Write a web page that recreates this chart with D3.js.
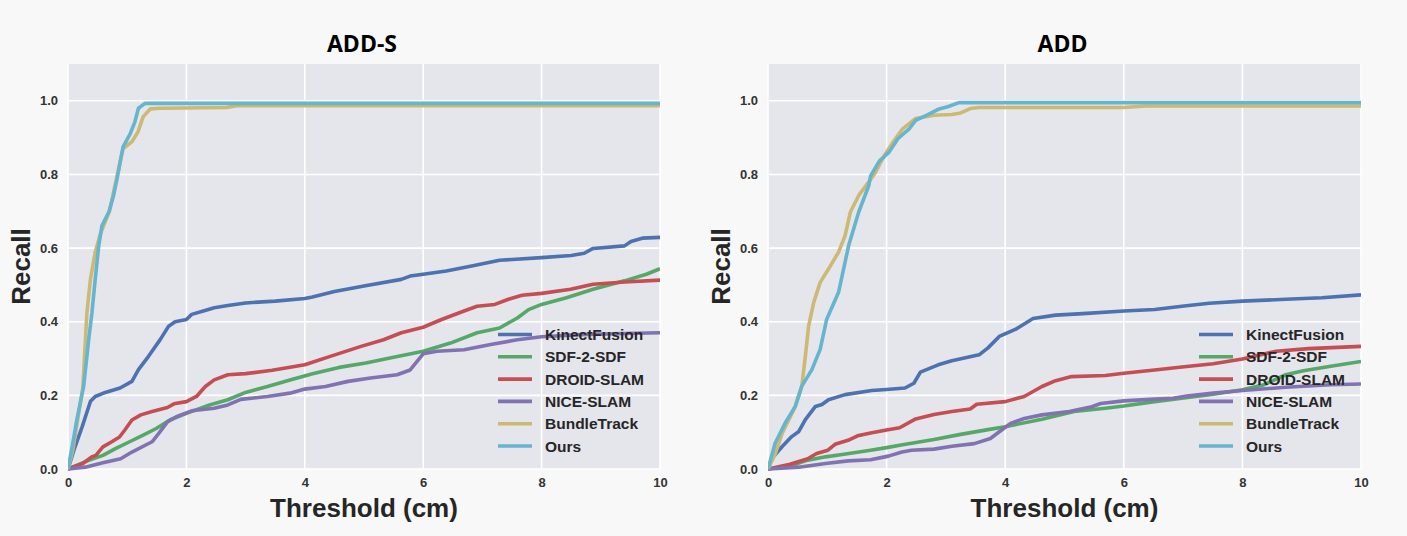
<!DOCTYPE html>
<html>
<head>
<meta charset="utf-8">
<script src="https://cdn.jsdelivr.net/npm/d3@7"></script>
<style>
  html, body { margin: 0; padding: 0; background: #f8f8f8; }
  svg { display: block; }
</style>
</head>
<body>
<svg id="chart" width="1407" height="536"></svg>
<script>
// ---------- DATA ----------
const seriesNames = ["KinectFusion", "SDF-2-SDF", "DROID-SLAM", "NICE-SLAM", "BundleTrack", "Ours"];
const seriesColors = ["#4C72B0", "#55A868", "#C44E52", "#8172B2", "#CCB974", "#64B5CD"];
const chartTitles = ["ADD-S", "ADD"];
const xTicks = [0, 2, 4, 6, 8, 10];
const yTicks = [0.0, 0.2, 0.4, 0.6, 0.8, 1.0];
const xLabel = "Threshold (cm)";
const yLabel = "Recall";

// ADD-S  [threshold (cm), recall]
const addS_KinectFusion = [[0,0],[0.12,0.061],[0.24,0.115],[0.38,0.184],[0.46,0.197],[0.63,0.208],[0.88,0.22],[1.08,0.238],[1.19,0.27],[1.36,0.306],[1.56,0.352],[1.7,0.388],[1.81,0.4],[2.0,0.406],[2.09,0.42],[2.3,0.43],[2.47,0.438],[2.7,0.444],[3.0,0.451],[3.5,0.456],[4.0,0.463],[4.13,0.467],[4.5,0.482],[5.0,0.497],[5.63,0.515],[5.78,0.524],[6.0,0.529],[6.39,0.538],[6.84,0.552],[7.29,0.567],[8.0,0.574],[8.5,0.58],[8.72,0.586],[8.87,0.599],[9.4,0.606],[9.51,0.618],[9.7,0.627],[10,0.629]];
const addS_SDF2SDF = [[0,0],[0.36,0.024],[0.59,0.037],[0.81,0.056],[1.04,0.074],[1.27,0.092],[1.49,0.11],[1.72,0.133],[2.0,0.151],[2.39,0.174],[2.7,0.188],[3.0,0.208],[3.37,0.224],[3.75,0.242],[4.13,0.259],[4.58,0.276],[5.03,0.288],[5.48,0.303],[6.0,0.32],[6.46,0.342],[6.91,0.37],[7.29,0.383],[7.59,0.41],[7.78,0.433],[8.0,0.447],[8.42,0.465],[8.87,0.488],[9.4,0.511],[9.77,0.529],[10,0.544]];
const addS_DROIDSLAM = [[0,0],[0.25,0.015],[0.4,0.033],[0.47,0.037],[0.59,0.06],[0.74,0.074],[0.87,0.087],[0.96,0.106],[1.08,0.133],[1.23,0.147],[1.42,0.156],[1.68,0.167],[1.79,0.177],[2.0,0.183],[2.17,0.197],[2.32,0.224],[2.47,0.242],[2.7,0.256],[3.0,0.259],[3.45,0.268],[4.0,0.283],[4.43,0.306],[4.95,0.333],[5.33,0.351],[5.63,0.37],[6.0,0.385],[6.31,0.406],[6.69,0.429],[6.91,0.442],[7.21,0.447],[7.44,0.461],[7.67,0.472],[8.0,0.477],[8.49,0.488],[8.87,0.502],[9.4,0.508],[10,0.513]];
const addS_NICESLAM = [[0,0],[0.29,0.005],[0.59,0.017],[0.89,0.028],[1.08,0.046],[1.42,0.074],[1.53,0.096],[1.68,0.128],[1.83,0.142],[2.09,0.158],[2.47,0.165],[2.7,0.174],[2.92,0.189],[3.37,0.197],[3.75,0.206],[4.0,0.217],[4.35,0.224],[4.73,0.238],[5.11,0.247],[5.56,0.256],[5.78,0.269],[6.0,0.313],[6.23,0.32],[6.69,0.324],[7.14,0.338],[7.59,0.351],[8.0,0.359],[8.65,0.365],[9.4,0.368],[10,0.37]];
const addS_BundleTrack = [[0,0],[0.08,0.05],[0.15,0.12],[0.25,0.22],[0.32,0.425],[0.38,0.516],[0.46,0.589],[0.55,0.64],[0.7,0.7],[0.88,0.835],[0.93,0.87],[1.01,0.88],[1.08,0.889],[1.18,0.915],[1.27,0.957],[1.39,0.978],[1.55,0.98],[2.68,0.982],[2.85,0.987],[10,0.987]];
const addS_Ours = [[0,0],[0.07,0.06],[0.15,0.134],[0.265,0.225],[0.35,0.352],[0.405,0.425],[0.46,0.516],[0.52,0.607],[0.574,0.661],[0.69,0.698],[0.77,0.743],[0.83,0.789],[0.93,0.875],[1.05,0.91],[1.13,0.943],[1.19,0.98],[1.3,0.993],[10,0.993]];

// ADD
const add_KinectFusion = [[0,0],[0.07,0.03],[0.24,0.061],[0.4,0.088],[0.52,0.102],[0.63,0.134],[0.8,0.17],[0.91,0.175],[1.02,0.188],[1.3,0.202],[1.75,0.213],[2.0,0.216],[2.31,0.22],[2.46,0.233],[2.57,0.263],[2.87,0.283],[3.1,0.294],[3.56,0.31],[3.71,0.329],[3.9,0.36],[4.17,0.379],[4.47,0.409],[4.85,0.418],[5.31,0.422],[6.0,0.429],[6.52,0.433],[6.98,0.442],[7.44,0.45],[8.0,0.456],[8.73,0.461],[9.34,0.465],[10,0.473]];
const add_SDF2SDF = [[0,0],[0.37,0.008],[0.67,0.024],[0.97,0.033],[1.28,0.04],[1.73,0.051],[2.0,0.058],[2.27,0.066],[2.8,0.08],[3.25,0.094],[3.71,0.107],[4.0,0.115],[4.62,0.135],[5.16,0.156],[5.69,0.165],[6.0,0.171],[6.52,0.183],[6.98,0.192],[7.51,0.203],[8.0,0.215],[8.35,0.228],[8.73,0.256],[9.03,0.267],[9.49,0.279],[10,0.292]];
const add_DROIDSLAM = [[0,0],[0.37,0.013],[0.67,0.028],[0.82,0.042],[1.01,0.051],[1.13,0.067],[1.35,0.078],[1.51,0.09],[1.73,0.098],[2.0,0.106],[2.22,0.112],[2.49,0.136],[2.8,0.148],[3.1,0.156],[3.41,0.163],[3.52,0.176],[4.0,0.183],[4.32,0.197],[4.62,0.224],[4.85,0.24],[5.12,0.251],[5.69,0.254],[6.0,0.26],[6.52,0.269],[6.98,0.277],[7.51,0.286],[8.0,0.299],[8.57,0.32],[9.11,0.327],[10,0.333]];
const add_NICESLAM = [[0,0],[0.52,0.005],[0.97,0.015],[1.35,0.022],[1.73,0.025],[2.03,0.035],[2.26,0.046],[2.42,0.051],[2.8,0.054],[3.1,0.062],[3.48,0.069],[3.75,0.083],[3.94,0.106],[4.09,0.124],[4.32,0.137],[4.62,0.147],[5.08,0.156],[5.46,0.169],[5.61,0.178],[6.0,0.185],[6.44,0.189],[6.83,0.192],[7.06,0.198],[7.51,0.206],[8.0,0.213],[8.73,0.222],[9.49,0.229],[10,0.231]];
const add_BundleTrack = [[0,0],[0.12,0.04],[0.24,0.097],[0.46,0.17],[0.57,0.225],[0.63,0.306],[0.685,0.388],[0.77,0.452],[0.88,0.507],[1.02,0.543],[1.19,0.589],[1.3,0.634],[1.39,0.698],[1.53,0.743],[1.7,0.78],[1.81,0.805],[1.96,0.851],[2.11,0.888],[2.27,0.924],[2.49,0.952],[2.8,0.961],[3.1,0.963],[3.25,0.967],[3.41,0.979],[3.56,0.982],[6.0,0.982],[6.37,0.986],[10,0.986]];
const add_Ours = [[0,0],[0.12,0.07],[0.29,0.125],[0.46,0.17],[0.57,0.225],[0.74,0.27],[0.88,0.325],[0.99,0.407],[1.19,0.48],[1.36,0.607],[1.53,0.698],[1.7,0.77],[1.73,0.796],[1.88,0.837],[2.04,0.86],[2.19,0.897],[2.38,0.924],[2.49,0.947],[2.68,0.961],[2.87,0.977],[3.03,0.984],[3.22,0.995],[10,0.995]];

const chartSeries = [
  [addS_KinectFusion, addS_SDF2SDF, addS_DROIDSLAM, addS_NICESLAM, addS_BundleTrack, addS_Ours],
  [add_KinectFusion, add_SDF2SDF, add_DROIDSLAM, add_NICESLAM, add_BundleTrack, add_Ours]
];

// ---------- LAYOUT ----------
const panels = [
  { left: 68, right: 660, top: 64, bottom: 469 },
  { left: 768, right: 1361, top: 64, bottom: 469 }
];

const svg = d3.select("#chart");
const FONT = "'Liberation Sans', Arial, sans-serif";

panels.forEach((p, ci) => {
  const x = d3.scaleLinear().domain([0, 10]).range([p.left, p.right]);
  const y = d3.scaleLinear().domain([0, 1.1]).range([p.bottom, p.top]);
  const g = svg.append("g");

  // background
  g.append("rect")
    .attr("x", p.left).attr("y", p.top)
    .attr("width", p.right - p.left).attr("height", p.bottom - p.top)
    .attr("fill", "#e5e5ec");

  // grid
  g.selectAll(".vg").data(xTicks).enter().append("line")
    .attr("x1", d => x(d)).attr("x2", d => x(d))
    .attr("y1", p.top).attr("y2", p.bottom)
    .attr("stroke", "#ffffff").attr("stroke-width", 1.6);
  g.selectAll(".hg").data(yTicks).enter().append("line")
    .attr("x1", p.left).attr("x2", p.right)
    .attr("y1", d => y(d)).attr("y2", d => y(d))
    .attr("stroke", "#ffffff").attr("stroke-width", 1.6);

  // axes (labels only)
  const xAxis = d3.axisBottom(x).tickValues(xTicks).tickSize(0).tickPadding(9).tickFormat(d3.format("d"));
  const yAxis = d3.axisLeft(y).tickValues(yTicks).tickSize(0).tickPadding(10).tickFormat(d3.format(".1f"));
  const gx = g.append("g").attr("transform", `translate(0,${p.bottom})`).call(xAxis);
  const gy = g.append("g").attr("transform", `translate(${p.left},0)`).call(yAxis);
  [gx, gy].forEach(a => {
    a.select(".domain").remove();
    a.selectAll("text")
      .attr("font-family", FONT).attr("font-weight", "bold")
      .attr("font-size", 13).attr("fill", "#333333");
  });

  // clip
  const clipId = "clip" + ci;
  svg.append("clipPath").attr("id", clipId).append("rect")
    .attr("x", p.left).attr("y", p.top - 2)
    .attr("width", p.right - p.left).attr("height", p.bottom - p.top + 4);

  const line = d3.line().x(d => x(d[0])).y(d => y(d[1])).curve(d3.curveLinear);
  const lg = g.append("g").attr("clip-path", `url(#${clipId})`);
  chartSeries[ci].forEach((data, si) => {
    lg.append("path")
      .attr("d", line(data))
      .attr("fill", "none")
      .attr("stroke", seriesColors[si])
      .attr("stroke-width", 3.6)
      .attr("stroke-linejoin", "round");
  });

  // legend
  const legX = p.right - 162;
  const legY0 = 334.5;
  const legStep = 22.3;
  seriesNames.forEach((name, si) => {
    const yy = legY0 + si * legStep;
    g.append("line")
      .attr("x1", legX).attr("x2", legX + 34)
      .attr("y1", yy).attr("y2", yy)
      .attr("stroke", seriesColors[si]).attr("stroke-width", 3.6);
    g.append("text")
      .attr("x", legX + 47).attr("y", yy + 5.5)
      .attr("font-family", FONT).attr("font-weight", "bold")
      .attr("font-size", 15.5).attr("fill", "#262626")
      .text(name);
  });

  // title
  g.append("text")
    .attr("x", (p.left + p.right) / 2 - 2).attr("y", 52)
    .attr("text-anchor", "middle")
    .attr("font-family", "'Open Sans', sans-serif").attr("font-weight", "bold")
    .attr("font-size", 23).attr("fill", "#000000")
    .text(chartTitles[ci]);

  // x label
  g.append("text")
    .attr("x", (p.left + p.right) / 2).attr("y", 517)
    .attr("text-anchor", "middle")
    .attr("font-family", FONT).attr("font-weight", "bold")
    .attr("font-size", 26).attr("fill", "#262626")
    .text(xLabel);

  // y label
  g.append("text")
    .attr("transform", `translate(${p.left - 38},${(p.top + p.bottom) / 2}) rotate(-90)`)
    .attr("text-anchor", "middle")
    .attr("font-family", FONT).attr("font-weight", "bold")
    .attr("font-size", 26).attr("fill", "#262626")
    .text(yLabel);
});
</script>
</body>
</html>
